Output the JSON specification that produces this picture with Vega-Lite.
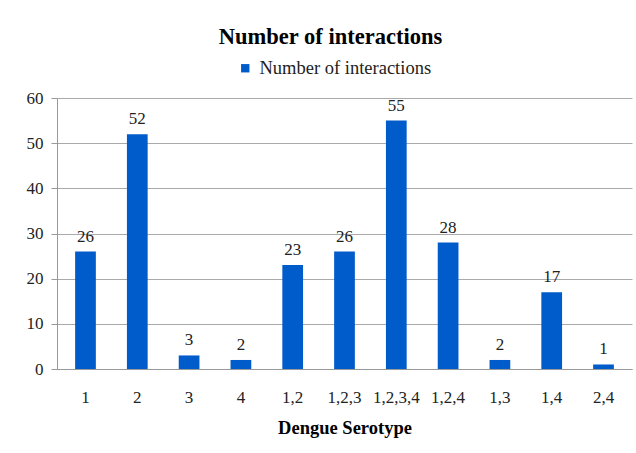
{
  "$schema": "https://vega.github.io/schema/vega-lite/v6.json",
  "width": 575,
  "height": 271,
  "autosize": {"type": "none"},
  "padding": {"left": 57, "top": 98, "right": 4, "bottom": 84},
  "background": "white",
  "title": {
    "text": "Number of interactions",
    "fontSize": 22.5,
    "fontWeight": "bold",
    "color": "black",
    "anchor": "middle",
    "dx": -14,
    "offset": 11
  },
  "data": {
    "values": [
      {"serotype": "1", "count": 26, "series": "Number of interactions"},
      {"serotype": "2", "count": 52, "series": "Number of interactions"},
      {"serotype": "3", "count": 3, "series": "Number of interactions"},
      {"serotype": "4", "count": 2, "series": "Number of interactions"},
      {"serotype": "1,2", "count": 23, "series": "Number of interactions"},
      {"serotype": "1,2,3", "count": 26, "series": "Number of interactions"},
      {"serotype": "1,2,3,4", "count": 55, "series": "Number of interactions"},
      {"serotype": "1,2,4", "count": 28, "series": "Number of interactions"},
      {"serotype": "1,3", "count": 2, "series": "Number of interactions"},
      {"serotype": "1,4", "count": 17, "series": "Number of interactions"},
      {"serotype": "2,4", "count": 1, "series": "Number of interactions"}
    ]
  },
  "encoding": {
    "x": {
      "field": "serotype",
      "type": "nominal",
      "sort": null,
      "scale": {"paddingInner": 0.6, "paddingOuter": 0.35},
      "axis": {
        "title": "Dengue Serotype",
        "titleFontSize": 18.5,
        "titleFontWeight": "bold",
        "titleColor": "black",
        "titlePadding": 13,
        "labelAngle": 0,
        "labelFontSize": 17,
        "labelColor": "#222",
        "labelPadding": 20,
        "ticks": false,
        "domainColor": "#999",
        "grid": false
      }
    },
    "y": {
      "field": "count",
      "type": "quantitative",
      "scale": {"domain": [0, 60], "nice": false},
      "axis": {
        "title": null,
        "values": [0, 10, 20, 30, 40, 50, 60],
        "labelFontSize": 17,
        "labelColor": "#222",
        "labelPadding": 8,
        "tickSize": 6,
        "tickColor": "#999",
        "domainColor": "#999",
        "gridColor": "#aaa",
        "grid": true
      }
    }
  },
  "layer": [
    {
      "mark": {"type": "bar", "color": "#005BCB"},
      "encoding": {
        "color": {
          "field": "series",
          "type": "nominal",
          "scale": {"range": ["#005BCB"]},
          "legend": {
            "title": null,
            "orient": "none",
            "legendX": 179,
            "legendY": -39,
            "symbolType": "square",
            "symbolSize": 70,
            "labelOffset": 5,
            "labelLimit": 400,
            "labelFontSize": 18.5,
            "labelColor": "#222"
          }
        }
      }
    },
    {
      "mark": {"type": "text", "baseline": "bottom", "dy": -6, "fontSize": 17, "color": "#222"},
      "encoding": {"text": {"field": "count", "type": "quantitative"}}
    }
  ],
  "config": {"view": {"stroke": null}, "font": "Liberation Serif"}
}
